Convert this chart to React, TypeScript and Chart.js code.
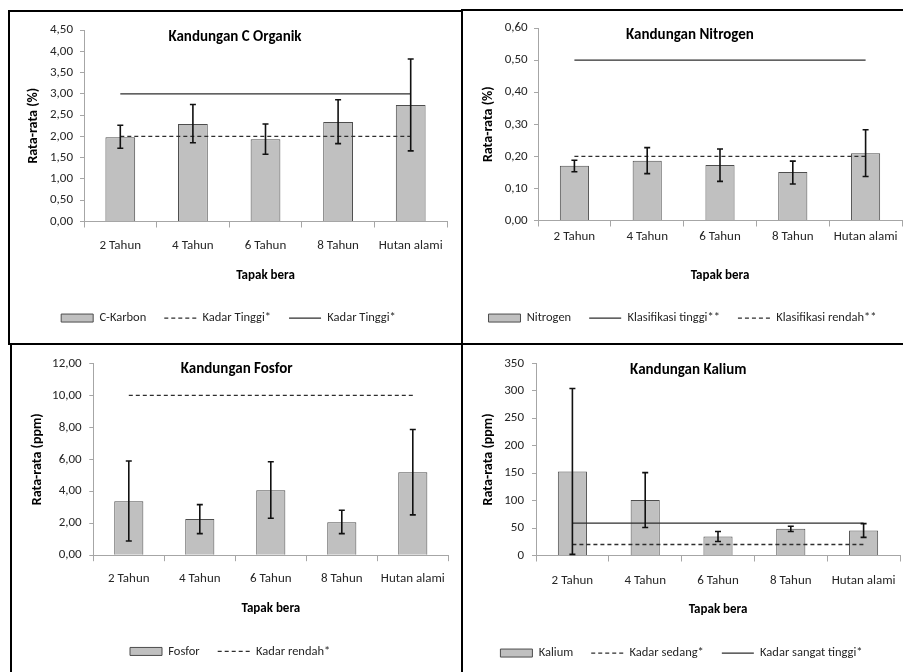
import React, { useEffect, useRef } from 'react';
import { Chart, registerables } from 'chart.js';

Chart.register(...registerables);

const FONT = 'Carlito, Lato, sans-serif';

const categories = ['2 Tahun', '4 Tahun', '6 Tahun', '8 Tahun', 'Hutan alami'];

// Kandungan C Organik (%)
const carbonMean = [1.98, 2.29, 1.93, 2.34, 2.74];
const carbonLow = [1.72, 1.85, 1.58, 1.83, 1.66];
const carbonHigh = [2.26, 2.75, 2.29, 2.86, 3.82];
const carbonDashed = [2.0, 2.0, 2.0, 2.0, 2.0];
const carbonSolid = [3.0, 3.0, 3.0, 3.0, 3.0];

// Kandungan Nitrogen (%)
const nitrogenMean = [0.171, 0.186, 0.173, 0.151, 0.21];
const nitrogenLow = [0.152, 0.146, 0.122, 0.114, 0.137];
const nitrogenHigh = [0.188, 0.227, 0.223, 0.185, 0.283];
const nitrogenSolid = [0.5, 0.5, 0.5, 0.5, 0.5];
const nitrogenDashed = [0.2, 0.2, 0.2, 0.2, 0.2];

// Kandungan Fosfor (ppm)
const fosforMean = [3.37, 2.27, 4.06, 2.06, 5.18];
const fosforLow = [0.89, 1.35, 2.31, 1.35, 2.52];
const fosforHigh = [5.89, 3.16, 5.84, 2.81, 7.86];
const fosforDashed = [10, 10, 10, 10, 10];

// Kandungan Kalium (ppm)
const kaliumMean = [153, 101, 34.5, 48.5, 45.4];
const kaliumLow = [2, 51, 25.4, 43.6, 33];
const kaliumHigh = [304, 151, 43.6, 53.3, 58];
const kaliumDashed = [20, 20, 20, 20, 20];
const kaliumSolid = [59, 59, 59, 59, 59];

type LineDef = { label: string; data: number[]; dashed: boolean };

type PanelCfg = {
  left: number; top: number; width: number; height: number;
  title: string; titleX: number; titleY: number;
  yTitle: string; yMax: number; yStep: number; decimals: number;
  barLabel: string; means: number[]; lows: number[]; highs: number[];
  lines: LineDef[];
  plotLeft: number; plotTop: number; padRight: number; padBottom: number;
  xHeight: number; xTickPad: number; yTickPad: number;
  xTitlePad: number; yTitlePad: number; barPct: number;
};

const panels: PanelCfg[] = [
  {
    left: 10, top: 12, width: 451, height: 331,
    title: 'Kandungan C Organik', titleX: 225, titleY: 25,
    yTitle: 'Rata-rata (%)', yMax: 4.5, yStep: 0.5, decimals: 2,
    barLabel: 'C-Karbon', means: carbonMean, lows: carbonLow, highs: carbonHigh,
    lines: [
      { label: 'Kadar Tinggi*', data: carbonDashed, dashed: true },
      { label: 'Kadar Tinggi*', data: carbonSolid, dashed: false },
    ],
    plotLeft: 74, plotTop: 18, padRight: 14, padBottom: 8.7,
    xHeight: 72.3, xTickPad: 10, yTickPad: 7, xTitlePad: 10.1, yTitlePad: 15, barPct: 0.41,
  },
  {
    left: 463, top: 11, width: 454, height: 332,
    title: 'Kandungan Nitrogen', titleX: 227, titleY: 24,
    yTitle: 'Rata-rata (%)', yMax: 0.6, yStep: 0.1, decimals: 2,
    barLabel: 'Nitrogen', means: nitrogenMean, lows: nitrogenLow, highs: nitrogenHigh,
    lines: [
      { label: 'Klasifikasi tinggi**', data: nitrogenSolid, dashed: false },
      { label: 'Klasifikasi rendah**', data: nitrogenDashed, dashed: true },
    ],
    plotLeft: 75, plotTop: 17, padRight: 15, padBottom: 8.7,
    xHeight: 73.3, xTickPad: 2, yTickPad: 6.3, xTitlePad: 10.1, yTitlePad: 17, barPct: 0.4,
  },
  {
    left: 12, top: 345, width: 449, height: 327,
    title: 'Kandungan Fosfor', titleX: 224.7, titleY: 24.3,
    yTitle: 'Rata-rata (ppm)', yMax: 12, yStep: 2, decimals: 2,
    barLabel: 'Fosfor', means: fosforMean, lows: fosforLow, highs: fosforHigh,
    lines: [{ label: 'Kadar rendah*', data: fosforDashed, dashed: true }],
    plotLeft: 81.3, plotTop: 18.3, padRight: 12.7, padBottom: 4.3,
    xHeight: 72, xTickPad: 10, yTickPad: 7.6, xTitlePad: 10.2, yTitlePad: 17, barPct: 0.41,
  },
  {
    left: 463, top: 345, width: 454, height: 327,
    title: 'Kandungan Kalium', titleX: 225.3, titleY: 25,
    yTitle: 'Rata-rata (ppm)', yMax: 350, yStep: 50, decimals: 0,
    barLabel: 'Kalium', means: kaliumMean, lows: kaliumLow, highs: kaliumHigh,
    lines: [
      { label: 'Kadar sedang*', data: kaliumDashed, dashed: true },
      { label: 'Kadar sangat tinggi*', data: kaliumSolid, dashed: false },
    ],
    plotLeft: 73, plotTop: 18.3, padRight: 17, padBottom: 2.7,
    xHeight: 73.3, xTickPad: 11, yTickPad: 8, xTitlePad: 10.8, yTitlePad: 17, barPct: 0.4,
  },
];

const BAR_FILL = '#c0c0c0';
const BAR_BORDER = '#4d4d4d';
const LINE_COLOR = '#2e2e2e';
const AXIS_COLOR = '#a6a6a6';
const TEXT_COLOR = '#262626';

function Panel({ cfg }: { cfg: PanelCfg }) {
  const ref = useRef<HTMLCanvasElement | null>(null);

  useEffect(() => {
    if (!ref.current) return;

    const titlePlugin = {
      id: 'panelTitle',
      afterDraw(chart: any) {
        const ctx = chart.ctx;
        ctx.save();
        ctx.font = `bold 15px ${FONT}`;
        ctx.fillStyle = '#000';
        ctx.textAlign = 'center';
        ctx.textBaseline = 'middle';
        ctx.fillText(cfg.title, cfg.titleX, cfg.titleY);
        ctx.restore();
      },
    };

    const errorBarPlugin = {
      id: 'errorBars',
      afterDatasetsDraw(chart: any) {
        const meta = chart.getDatasetMeta(0);
        const ys = chart.scales.y;
        const ctx = chart.ctx;
        ctx.save();
        ctx.strokeStyle = '#111';
        ctx.lineWidth = 1.6;
        meta.data.forEach((el: any, i: number) => {
          const x = el.x;
          const y1 = ys.getPixelForValue(cfg.lows[i]);
          const y2 = ys.getPixelForValue(cfg.highs[i]);
          ctx.beginPath();
          ctx.moveTo(x, y1);
          ctx.lineTo(x, y2);
          ctx.moveTo(x - 3, y1);
          ctx.lineTo(x + 3, y1);
          ctx.moveTo(x - 3, y2);
          ctx.lineTo(x + 3, y2);
          ctx.stroke();
        });
        ctx.restore();
      },
    };

    const datasets: any[] = [
      {
        type: 'bar',
        label: cfg.barLabel,
        data: cfg.means,
        backgroundColor: BAR_FILL,
        borderColor: BAR_BORDER,
        borderWidth: 1,
        barPercentage: cfg.barPct,
        categoryPercentage: 1,
        order: 1,
      },
      ...cfg.lines.map((l) => ({
        type: 'line',
        label: l.label,
        data: l.data,
        borderColor: LINE_COLOR,
        borderWidth: 1.3,
        borderDash: l.dashed ? [4, 3] : [],
        pointRadius: 0,
        fill: false,
        tension: 0,
        order: 0,
      })),
    ];

    const chart = new Chart(ref.current, {
      type: 'bar',
      data: { labels: categories, datasets },
      options: {
        responsive: false,
        animation: false,
        devicePixelRatio: 1,
        events: [],
        layout: {
          padding: { left: 0, top: cfg.plotTop, right: cfg.padRight, bottom: cfg.padBottom },
        },
        plugins: {
          tooltip: { enabled: false },
          title: { display: false },
          legend: {
            display: true,
            position: 'bottom',
            labels: {
              usePointStyle: true,
              pointStyleWidth: 32,
              boxHeight: 8,
              padding: 18,
              color: TEXT_COLOR,
              font: { family: FONT, size: 12.5 },
              generateLabels: (chart: any) =>
                chart.data.datasets.map((ds: any, i: number) => ({
                  text: ds.label,
                  datasetIndex: i,
                  fillStyle: ds.type === 'bar' ? BAR_FILL : 'rgba(0,0,0,0)',
                  strokeStyle: ds.type === 'bar' ? BAR_BORDER : LINE_COLOR,
                  lineWidth: ds.type === 'bar' ? 1 : 1.2,
                  lineDash: ds.borderDash || [],
                  pointStyle: ds.type === 'bar' ? 'rect' : 'line',
                  hidden: false,
                  fontColor: TEXT_COLOR,
                })),
            },
          },
        },
        scales: {
          x: {
            afterFit: (s: any) => { s.height = cfg.xHeight; },
            border: { display: true, color: AXIS_COLOR, width: 1 },
            grid: { display: true, drawOnChartArea: false, drawTicks: true, tickLength: 6, color: AXIS_COLOR, offset: true },
            ticks: { color: TEXT_COLOR, padding: cfg.xTickPad, maxRotation: 0, autoSkip: false, font: { family: FONT, size: 13 } },
            title: {
              display: true,
              text: 'Tapak bera',
              color: '#000',
              font: { family: FONT, size: 13, weight: 'bold' },
              padding: { top: 0, bottom: cfg.xTitlePad },
            },
          },
          y: {
            min: 0,
            max: cfg.yMax,
            afterFit: (s: any) => { s.width = cfg.plotLeft; },
            border: { display: true, color: AXIS_COLOR, width: 1 },
            grid: { display: true, drawOnChartArea: false, drawTicks: true, tickLength: 4, color: AXIS_COLOR },
            ticks: {
              stepSize: cfg.yStep,
              color: TEXT_COLOR,
              padding: cfg.yTickPad,
              font: { family: FONT, size: 13 },
              callback: (v: any) => Number(v).toFixed(cfg.decimals).replace('.', ','),
            },
            title: {
              display: true,
              text: cfg.yTitle,
              color: '#000',
              font: { family: FONT, size: 14, weight: 'bold' },
              padding: { top: cfg.yTitlePad, bottom: 0 },
            },
          },
        },
      } as any,
      plugins: [titlePlugin, errorBarPlugin],
    } as any);

    return () => chart.destroy();
  }, [cfg]);

  return (
    <canvas
      ref={ref}
      width={cfg.width}
      height={cfg.height}
      style={{ position: 'absolute', left: cfg.left, top: cfg.top, width: cfg.width, height: cfg.height }}
    />
  );
}

const borderBox = (left: number, top: number, width: number, height: number): React.CSSProperties => ({
  position: 'absolute',
  left,
  top,
  width,
  height,
  border: '2px solid #000',
  boxSizing: 'border-box',
  pointerEvents: 'none',
});

export default function App() {
  return (
    <div
      style={{
        position: 'absolute',
        left: 0,
        top: 0,
        width: 903,
        height: 672,
        overflow: 'hidden',
        background: '#fff',
      }}
    >
      {panels.map((p, i) => (
        <Panel key={i} cfg={p} />
      ))}
      <div style={borderBox(8, 10, 455, 335)} />
      <div style={borderBox(461, 9, 450, 336)} />
      <div style={borderBox(10, 343, 453, 340)} />
      <div style={borderBox(461, 343, 450, 340)} />
    </div>
  );
}
